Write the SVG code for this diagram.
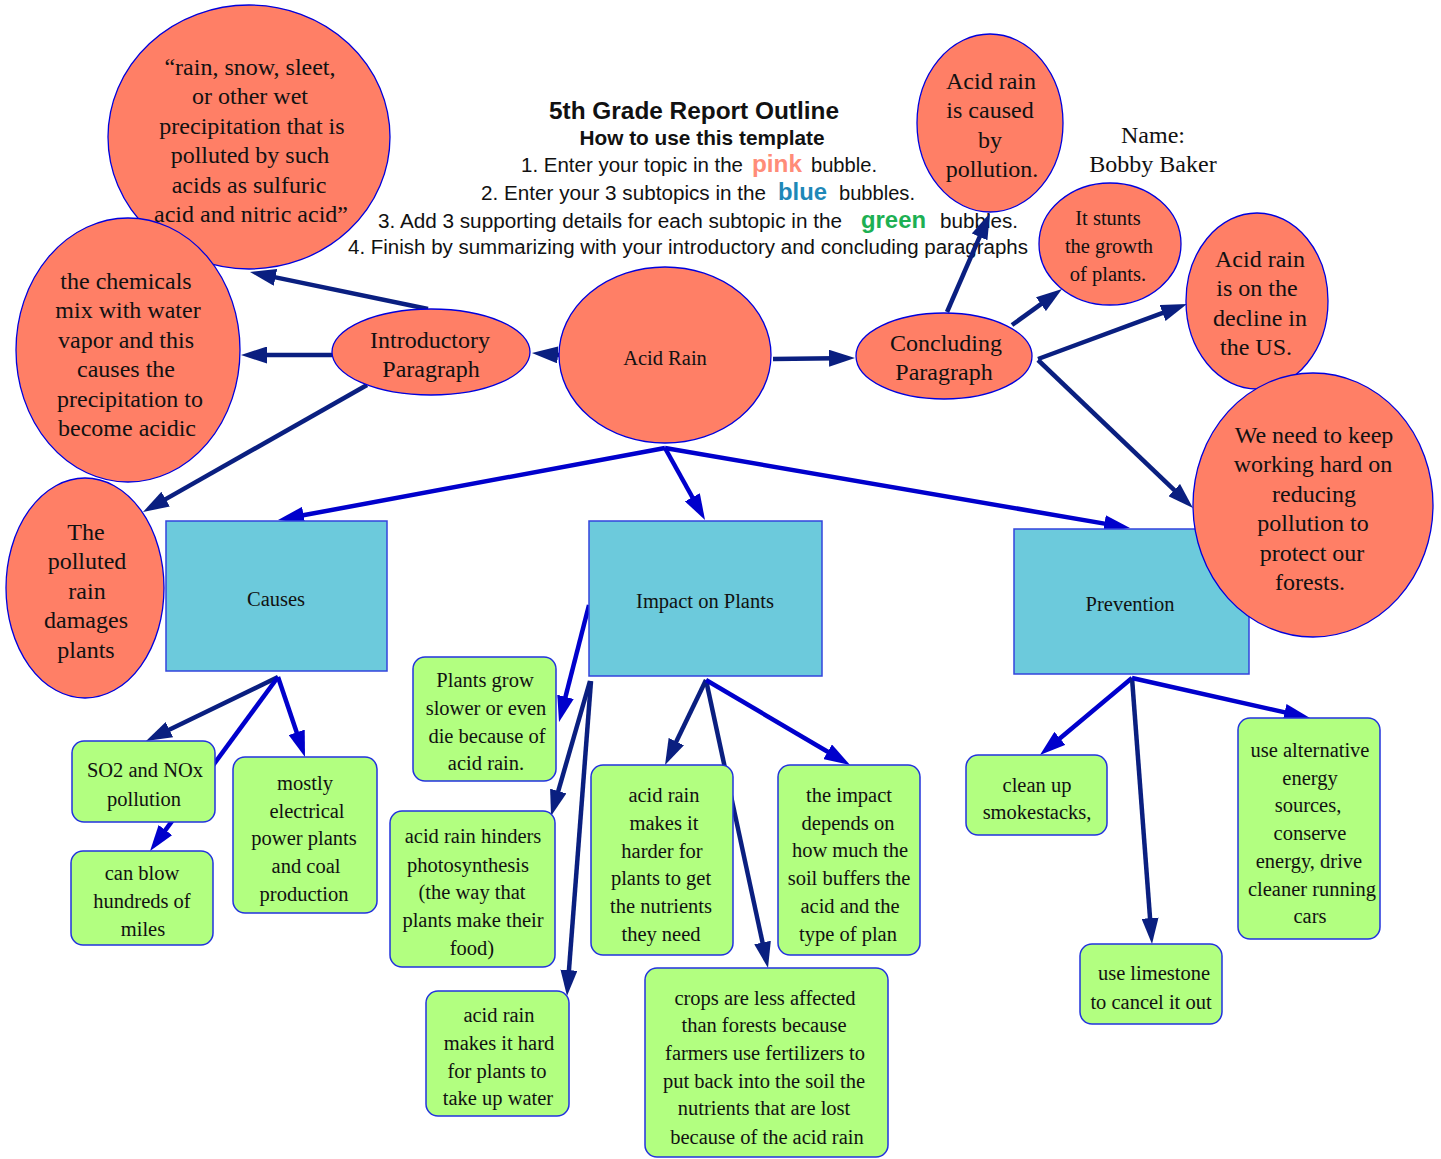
<svg xmlns="http://www.w3.org/2000/svg" width="1441" height="1159" viewBox="0 0 1441 1159">
<style>
.bub{fill:#ff7f66;stroke:#0000dd;stroke-width:1.3}
.box{fill:#6ccadc;stroke:#3344dd;stroke-width:1.5}
.grn{fill:#b2ff80;stroke:#2233dd;stroke-width:1.5}
.t24{font-family:"Liberation Serif","Times New Roman",serif;font-size:24px;fill:#111;text-anchor:middle}
.t20{font-family:"Liberation Serif","Times New Roman",serif;font-size:20.5px;fill:#111;text-anchor:middle}
.hd{font-family:"Liberation Sans",Arial,sans-serif;fill:#111;text-anchor:middle}
.hl{font-family:"Liberation Sans",Arial,sans-serif;fill:#111;font-size:20px}
.hc{font-family:"Liberation Sans",Arial,sans-serif;font-weight:bold;font-size:23px}
.nv{stroke:#0a1f80;stroke-width:4.5;fill:none;marker-end:url(#an)}
.bl{stroke:#0000cc;stroke-width:4.5;fill:none;marker-end:url(#ab)}
</style>
<defs>
<marker id="an" markerUnits="userSpaceOnUse" markerWidth="26" markerHeight="17" refX="6" refY="8.5" orient="auto" viewBox="0 0 26 17"><path d="M0,0 L26,8.5 L0,17 Z" fill="#0a1f80"/></marker>
<marker id="ab" markerUnits="userSpaceOnUse" markerWidth="26" markerHeight="17" refX="6" refY="8.5" orient="auto" viewBox="0 0 26 17"><path d="M0,0 L26,8.5 L0,17 Z" fill="#0000cc"/></marker>
</defs>
<rect width="1441" height="1159" fill="#fff"/>
<g id="header">
<text class="hd" x="694" y="119" font-size="24" font-weight="bold" textLength="290" lengthAdjust="spacingAndGlyphs">5th Grade Report Outline</text>
<text class="hd" x="702" y="145" font-size="20.5" font-weight="bold" textLength="245" lengthAdjust="spacingAndGlyphs">How to use this template</text>
<text class="hl" x="521" y="172" textLength="222" lengthAdjust="spacingAndGlyphs">1. Enter your topic in the</text>
<text class="hc" x="752" y="172" fill="#ff8c78" textLength="50" lengthAdjust="spacingAndGlyphs">pink</text>
<text class="hl" x="811" y="172" textLength="66" lengthAdjust="spacingAndGlyphs">bubble.</text>
<text class="hl" x="481" y="200" textLength="285" lengthAdjust="spacingAndGlyphs">2. Enter your 3 subtopics in the</text>
<text class="hc" x="778" y="200" fill="#1e88b8" textLength="49" lengthAdjust="spacingAndGlyphs">blue</text>
<text class="hl" x="839" y="200" textLength="76" lengthAdjust="spacingAndGlyphs">bubbles.</text>
<text class="hl" x="378" y="228" textLength="464" lengthAdjust="spacingAndGlyphs">3. Add 3 supporting details for each subtopic in the</text>
<text class="hc" x="861" y="228" fill="#1db053" textLength="65" lengthAdjust="spacingAndGlyphs">green</text>
<text class="hl" x="940" y="228" textLength="78" lengthAdjust="spacingAndGlyphs">bubbles.</text>
<text class="hd" x="688" y="254" font-size="20" textLength="680" lengthAdjust="spacingAndGlyphs">4. Finish by summarizing with your introductory and concluding paragraphs</text>
<text class="t24" x="1153" y="143">Name:</text>
<text class="t24" x="1153" y="172">Bobby Baker</text>
</g>
<g id="connectors">
<path class="nv" d="M428,309 L269.6,276.1"/>
<path class="nv" d="M332,355 L261,355"/>
<path class="nv" d="M367,385 L160.4,502.1"/>
<path class="nv" d="M559,355 L551.9,354.5"/>
<path class="nv" d="M773,359 L835,358.2"/>
<path class="nv" d="M947,312 L982,231.4"/>
<path class="nv" d="M1012,325 L1045.8,300.7"/>
<path class="nv" d="M1038,359 L1168.2,310.9"/>
<path class="nv" d="M1038,360 L1178.5,494.2"/>
<path class="bl" d="M665,448 L297.7,516.3"/>
<path class="bl" d="M665,448 L695.3,502.5"/>
<path class="bl" d="M665,448 L1110.3,524.6"/>
<path class="nv" d="M278,677 L164,732.3"/>
<path class="bl" d="M278,677 L161.9,834.9"/>
<path class="bl" d="M278,677 L298.6,738"/>
<path class="bl" d="M589,605 L564,702.6"/>
<path class="nv" d="M590,681 L556.6,796.8"/>
<path class="nv" d="M591,681 L568.5,976.1"/>
<path class="nv" d="M706,680 L673.7,747"/>
<path class="nv" d="M706,680 L763.8,948.4"/>
<path class="bl" d="M706,680 L832.8,754.8"/>
<path class="bl" d="M1132,678 L1055.3,742.2"/>
<path class="nv" d="M1132,678 L1150.5,924.1"/>
<path class="bl" d="M1132,678 L1290.5,713.6"/>
</g>
<g id="n-quote"><ellipse class="bub" cx="249" cy="137" rx="141" ry="132"/>
<text class="t24"><tspan x="250" y="75">“rain, snow, sleet,</tspan><tspan x="250" y="104">or other wet</tspan><tspan x="252" y="134">precipitation that is</tspan><tspan x="250" y="163">polluted by such</tspan><tspan x="249" y="193">acids as sulfuric</tspan><tspan x="251" y="222">acid and nitric acid”</tspan></text></g>
<g id="n-chem"><ellipse class="bub" cx="128" cy="350" rx="112" ry="132"/>
<text class="t24"><tspan x="126" y="289">the chemicals</tspan><tspan x="128" y="318">mix with water</tspan><tspan x="126" y="348">vapor and this</tspan><tspan x="126" y="377">causes the</tspan><tspan x="130" y="407">precipitation to</tspan><tspan x="127" y="436">become acidic</tspan></text></g>
<g id="n-polluted"><ellipse class="bub" cx="85" cy="588" rx="79" ry="110"/>
<text class="t24"><tspan x="86" y="540">The</tspan><tspan x="87" y="569">polluted</tspan><tspan x="87" y="599">rain</tspan><tspan x="86" y="628">damages</tspan><tspan x="86" y="658">plants</tspan></text></g>
<g id="n-intro"><ellipse class="bub" cx="431" cy="352" rx="99" ry="43"/>
<text class="t24"><tspan x="430" y="348">Introductory</tspan><tspan x="431" y="377">Paragraph</tspan></text></g>
<g id="n-acidrain"><ellipse class="bub" cx="665" cy="355" rx="106" ry="88"/>
<text class="t20" x="665" y="365">Acid Rain</text></g>
<g id="n-concluding"><ellipse class="bub" cx="944" cy="356" rx="88" ry="43"/>
<text class="t24"><tspan x="946" y="351">Concluding</tspan><tspan x="944" y="380">Paragraph</tspan></text></g>
<g id="n-caused"><ellipse class="bub" cx="990" cy="123" rx="73" ry="89"/>
<text class="t24"><tspan x="991" y="89">Acid rain</tspan><tspan x="990" y="118">is caused</tspan><tspan x="990" y="148">by</tspan><tspan x="992" y="177">pollution.</tspan></text></g>
<g id="n-stunts"><ellipse class="bub" cx="1110" cy="244" rx="71" ry="61"/>
<text class="t20"><tspan x="1108" y="225">It stunts</tspan><tspan x="1109" y="253">the growth</tspan><tspan x="1108" y="281">of plants.</tspan></text></g>
<g id="n-decline"><ellipse class="bub" cx="1257" cy="301" rx="71" ry="88"/>
<text class="t24"><tspan x="1260" y="267">Acid rain</tspan><tspan x="1257" y="296">is on the</tspan><tspan x="1260" y="326">decline in</tspan><tspan x="1256" y="355">the US.</tspan></text></g>
<g id="n-causes"><rect class="box" x="166" y="521" width="221" height="150"/>
<text class="t20" x="276" y="606">Causes</text></g>
<g id="n-impact"><rect class="box" x="589" y="521" width="233" height="155"/>
<text class="t20" x="705" y="608">Impact on Plants</text></g>
<g id="n-prevention"><rect class="box" x="1014" y="529" width="235" height="145"/>
<text class="t20" x="1130" y="611">Prevention</text></g>
<g id="n-weneed"><ellipse class="bub" cx="1313" cy="505" rx="120" ry="132"/>
<text class="t24"><tspan x="1314" y="443">We need to keep</tspan><tspan x="1313" y="472">working hard on</tspan><tspan x="1314" y="502">reducing</tspan><tspan x="1313" y="531">pollution to</tspan><tspan x="1312" y="561">protect our</tspan><tspan x="1310" y="590">forests.</tspan></text></g>
<g id="n-so2"><rect class="grn" x="72" y="741" width="143" height="81" rx="12"/>
<text class="t20"><tspan x="145" y="777">SO2 and NOx</tspan><tspan x="144" y="806">pollution</tspan></text></g>
<g id="n-canblow"><rect class="grn" x="71" y="851" width="142" height="94" rx="12"/>
<text class="t20"><tspan x="142" y="880">can blow</tspan><tspan x="142" y="908">hundreds of</tspan><tspan x="143" y="936">miles</tspan></text></g>
<g id="n-mostly"><rect class="grn" x="233" y="757" width="144" height="156" rx="12"/>
<text class="t20"><tspan x="305" y="790">mostly</tspan><tspan x="307" y="818">electrical</tspan><tspan x="304" y="845">power plants</tspan><tspan x="306" y="873">and coal</tspan><tspan x="304" y="901">production</tspan></text></g>
<g id="n-grow"><rect class="grn" x="413" y="657" width="143" height="124" rx="12"/>
<text class="t20"><tspan x="485" y="687">Plants grow</tspan><tspan x="486" y="715">slower or even</tspan><tspan x="487" y="743">die because of</tspan><tspan x="486" y="770">acid rain.</tspan></text></g>
<g id="n-hinders"><rect class="grn" x="390" y="811" width="165" height="156" rx="12"/>
<text class="t20"><tspan x="473" y="843">acid rain hinders</tspan><tspan x="468" y="872">photosynthesis</tspan><tspan x="472" y="899">(the way that</tspan><tspan x="473" y="927">plants make their</tspan><tspan x="472" y="955">food)</tspan></text></g>
<g id="n-harder"><rect class="grn" x="591" y="765" width="142" height="190" rx="12"/>
<text class="t20"><tspan x="664" y="802">acid rain</tspan><tspan x="664" y="830">makes it</tspan><tspan x="662" y="858">harder for</tspan><tspan x="661" y="885">plants to get</tspan><tspan x="661" y="913">the nutrients</tspan><tspan x="661" y="941">they need</tspan></text></g>
<g id="n-theimpact"><rect class="grn" x="778" y="765" width="142" height="190" rx="12"/>
<text class="t20"><tspan x="849" y="802">the impact</tspan><tspan x="848" y="830">depends on</tspan><tspan x="850" y="857">how much the</tspan><tspan x="849" y="885">soil buffers the</tspan><tspan x="850" y="913">acid and the</tspan><tspan x="848" y="941">type of plan</tspan></text></g>
<g id="n-hard"><rect class="grn" x="426" y="991" width="143" height="125" rx="12"/>
<text class="t20"><tspan x="499" y="1022">acid rain</tspan><tspan x="499" y="1050">makes it hard</tspan><tspan x="497" y="1078">for plants to</tspan><tspan x="498" y="1105">take up water</tspan></text></g>
<g id="n-crops"><rect class="grn" x="645" y="968" width="243" height="189" rx="12"/>
<text class="t20"><tspan x="765" y="1005">crops are less affected</tspan><tspan x="764" y="1032">than forests because</tspan><tspan x="765" y="1060">farmers use fertilizers to</tspan><tspan x="764" y="1088">put back into the soil the</tspan><tspan x="764" y="1115">nutrients that are lost</tspan><tspan x="767" y="1144">because of the acid rain</tspan></text></g>
<g id="n-cleanup"><rect class="grn" x="966" y="755" width="141" height="80" rx="12"/>
<text class="t20"><tspan x="1037" y="792">clean up</tspan><tspan x="1037" y="819">smokestacks,</tspan></text></g>
<g id="n-limestone"><rect class="grn" x="1080" y="944" width="142" height="80" rx="12"/>
<text class="t20"><tspan x="1154" y="980">use limestone</tspan><tspan x="1151" y="1009">to cancel it out</tspan></text></g>
<g id="n-alternative"><rect class="grn" x="1238" y="718" width="142" height="221" rx="12"/>
<text class="t20"><tspan x="1310" y="757">use alternative</tspan><tspan x="1310" y="785">energy</tspan><tspan x="1308" y="812">sources,</tspan><tspan x="1310" y="840">conserve</tspan><tspan x="1309" y="868">energy, drive</tspan><tspan x="1312" y="896">cleaner running</tspan><tspan x="1310" y="923">cars</tspan></text></g>
</svg>
